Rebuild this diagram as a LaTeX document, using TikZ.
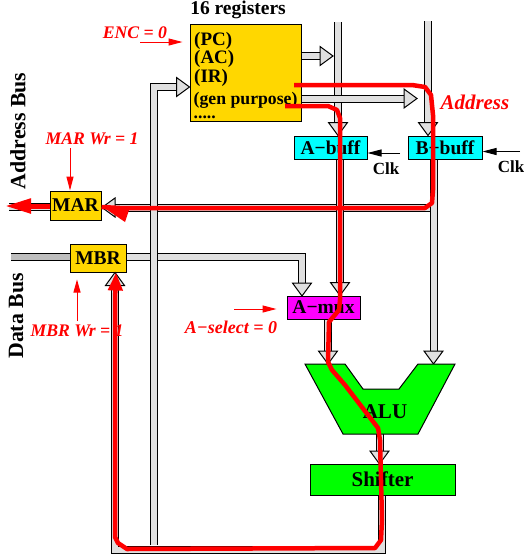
\documentclass[tikz,border=0pt]{standalone}
\usepackage{fontspec}
\setmainfont{Liberation Serif}
\usepackage{xcolor}
\usetikzlibrary{arrows.meta,positioning}
\definecolor{busgray}{HTML}{E0E0E0}
\definecolor{datagray}{HTML}{BEBEBE}
\definecolor{reggold}{HTML}{FFD700}
\definecolor{buffcyan}{HTML}{00FFFF}
\definecolor{muxpink}{HTML}{FF00FF}
\definecolor{alugreen}{HTML}{00FF00}
\definecolor{pathred}{HTML}{FF0000}
\begin{document}
\begin{tikzpicture}[
        x=1pt, y=-1pt,
        box/.style={draw, line width=1pt, inner sep=0pt, align=center, font=\fontsize{19.5}{21}\selectfont\bfseries},
        bus/.style={draw=black, line width=1pt, double=busgray, double distance=6pt},
        busarr/.style={bus, shorten >=12pt},
        bushead/.pic={\draw[fill=busgray, line width=1pt] (-13,-9.5) -- (0,0) -- (-13,9.5) -- cycle;},
        sig/.style={-{Triangle[length=14pt, width=7pt]}, line width=1pt},
        path/.style={pathred, line width=4.5pt, line join=round},
        redlbl/.style={pathred, font=\fontsize{17.7}{20}\selectfont\bfseries\itshape},
        blk/.style={font=\fontsize{17}{20}\selectfont\bfseries},
        side/.style={rotate=90, font=\fontsize{21.8}{24}\selectfont\bfseries}
    ]
        \useasboundingbox (0,0) rectangle (524,555);
        % boxes
        \node[box, fill=reggold, minimum width=111pt, minimum height=97pt] (regs) at (245.5,72.5) {};
        \node[box, fill=buffcyan, minimum width=73pt, minimum height=23pt] (abuff) at (330.5,147.5) {A−buff};
        \node[box, fill=buffcyan, minimum width=74pt, minimum height=23pt] (bbuff) at (445,147.5) {B−buff};
        \node[box, fill=reggold, minimum width=51pt, minimum height=29pt] (mar) at (75.5,205.5) {MAR};
        \node[box, fill=reggold, minimum width=56pt, minimum height=28pt] (mbr) at (98,258) {MBR};
        \node[box, fill=muxpink, minimum width=73pt, minimum height=23pt] (amux) at (323.5,307.5) {A−mux};
        \node[box, fill=alugreen, minimum width=145pt, minimum height=31pt, font=\fontsize{21}{23}\selectfont\bfseries] (shifter) at (382.5,479.5) {Shifter};
        % free ends of the buses
        \coordinate (atop) at (338,22);
        \coordinate (btop) at (428,21);
        \coordinate (lbot) at (154,545);
        \coordinate (aout) at (340,160);
        \coordinate (bout) at (433.5,160);
        \coordinate (aluin) at (328,364);
        \coordinate (marin) at (102,207.5);
        \coordinate (marout) at (9,206.5);
        \coordinate (datain) at (11,257);
        % buses
        \draw[busarr] (bout |- marin) -- (marin);
        \pic at (marin) [rotate=180] {bushead};
        \draw[bus] (mar.west |- marout) -- (marout);
        \draw[bus, double=datagray] (mbr.west |- datain) -- (datain);
        \draw[busarr] (mbr.east |- datain) -- (302,257) -- (302,296);
        \pic at (302,296) [rotate=-90] {bushead};
        \draw[busarr] (lbot) -- (lbot |- 0,87) -- (regs.west |- 0,87);
        \pic at (regs.west |- 0,87) {bushead};
        \draw[busarr] (atop) -- (atop |- abuff.north);
        \pic at (atop |- abuff.north) [rotate=-90] {bushead};
        \draw[busarr] (btop) -- (btop |- bbuff.north);
        \pic at (btop |- bbuff.north) [rotate=-90] {bushead};
        \draw[busarr] (regs.east |- 0,56) -- (333,56);
        \pic at (333,56) {bushead};
        \draw[busarr] (regs.east |- 0,98.5) -- (417,98.5);
        \pic at (417,98.5) {bushead};
        \draw[busarr] (aout) -- (aout |- amux.north);
        \pic at (aout |- amux.north) [rotate=-90] {bushead};
        \draw[busarr] (bout) -- (bout |- 0,364);
        \pic at (bout |- 0,364) [rotate=-90] {bushead};
        \draw[busarr] (amux.south -| aluin) -- (aluin);
        \pic at (aluin) [rotate=-90] {bushead};
        \draw[busarr] (379.5,434) -- (379.5,464);
        \pic at (379.5,464) [rotate=-90] {bushead};
        \draw[busarr] (shifter.south -| 382,0) -- (382,550) -- (115,550) -- (mbr.south -| 115,0);
        \pic at (mbr.south -| 115,0) [rotate=90] {bushead};
        % alu
        \draw[fill=alugreen, line width=1pt] (305,364) -- (345,364) -- (363,389) -- (399,389) -- (418,364) -- (455,364) -- (418,434) -- (343,434) -- cycle;
        \node[font=\fontsize{21}{23}\selectfont\bfseries] (alu) at (385,412) {ALU};
        % register text
        \node[font=\fontsize{19.5}{21}\selectfont\bfseries] (regtitle) at (238,10) {16 registers};
        \node[anchor=north west, inner sep=0pt, align=left, font=\fontsize{19}{18.6}\selectfont\bfseries] (reglist) at (194,32) {(PC)\\(AC)\\(IR)};
        \node[anchor=north west, inner sep=0pt, align=left, font=\fontsize{17.7}{14}\selectfont\bfseries] (reggen) at (193.5,92) {(gen purpose)\\.....};
        % labels
        \node[side] (addrbus) at (18,131) {Address Bus};
        \node[side] (databus) at (16,316) {Data Bus};
        \node[blk] (clka) at (386,169) {Clk};
        \node[blk] (clkb) at (511,167) {Clk};
        \node[redlbl] (enc) at (135,33) {ENC = 0};
        \node[redlbl] (marwr) at (92,139) {MAR Wr = 1};
        \node[redlbl] (mbrwr) at (77,331) {MBR Wr = 1};
        \node[redlbl, font=\fontsize{18}{20}\selectfont\bfseries\itshape] (asel) at (231,327) {A−select = 0};
        \node[redlbl, font=\fontsize{20.9}{23}\selectfont\bfseries\itshape] (addr) at (475,102) {Address};
        % control signals
        \coordinate (encfrom) at (140,42);
        \coordinate (marfrom) at (70,148);
        \coordinate (mbrfrom) at (77,321);
        \coordinate (aselfrom) at (234,309);
        \coordinate (clkafrom) at (400,153);
        \coordinate (clkbfrom) at (520,151.5);
        \draw[sig, pathred] (encfrom) -- ([xshift=-7pt]encfrom -| regs.west);
        \draw[sig, pathred] (marfrom) -- (marfrom |- mar.north);
        \draw[sig, pathred, -{Triangle[length=13pt, width=7pt]}] (mbrfrom) -- ([yshift=-7pt]mbrfrom |- mbr.south);
        \draw[sig, pathred] (aselfrom) -- ([xshift=-10pt]aselfrom -| amux.west);
        \draw[sig] (clkafrom) -- (clkafrom -| abuff.east);
        \draw[sig] (clkbfrom) -- (clkbfrom -| bbuff.east);
        % red paths
        \coordinate (addrstart) at (294,85);
        \coordinate (datastart) at (285,106);
        \draw[path] (addrstart) -- (412,85) -- (425,87) -- (431,95) -- (433,115) -- (433,190) -- (432,203) -- (425,208) -- (120,208) -- (mar.east |- 0,207);
        \fill[pathred] (103,207) -- (130,207) -- (125,222) -- cycle;
        \draw[path, line width=5pt, -{Triangle[length=26pt, width=14pt]}] (mar.west |- 0,206) -- (5,206);
        \draw[path, -{Triangle[length=18pt, width=14pt]}] (datastart) -- (328,106) -- (337,110) -- (340,118) -- (340,300) -- (339,310) -- (329,322) -- (328,362) -- (332,370) -- (345,385) -- (368,415) -- (378,428) -- (380,440) -- (382,520) -- (381,540) -- (375,548) -- (127,549) -- (118,543) -- (115,537) -- (115,300) -- (mbr.south -| 116,0);
    \end{tikzpicture}
\end{document}
